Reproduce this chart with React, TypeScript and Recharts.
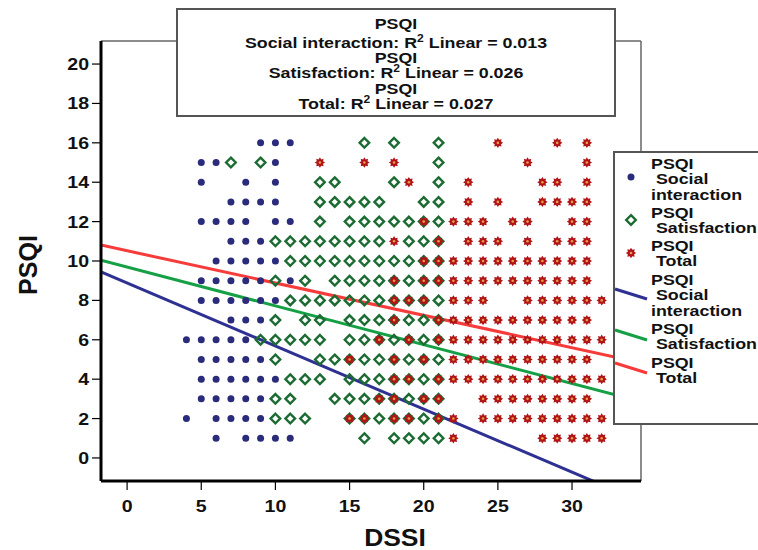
import React from 'react';
import { ScatterChart, Scatter, XAxis, YAxis, ReferenceLine } from 'recharts';

// ---------- data ----------
const psqiLevels = [16, 15, 14, 13, 12, 11, 10, 9, 8, 7, 6, 5, 4, 3, 2, 1];

// DSSI values observed at each PSQI level (same order as psqiLevels)
const socialDssi: number[][] = [
  [9, 10, 11],
  [5, 6, 10],
  [5, 8, 10],
  [7, 8, 9, 10],
  [5, 6, 7, 8, 10, 11],
  [7, 8, 9],
  [6, 7, 8, 9, 10],
  [5, 6, 7, 8, 9, 11],
  [5, 6, 7, 8, 9, 10],
  [7, 8, 9],
  [4, 5, 6, 7, 8],
  [5, 6, 7, 8, 9],
  [5, 6, 7, 8, 9, 10],
  [5, 6, 7, 8, 9],
  [4, 6, 7, 8, 9],
  [6, 8, 9, 10, 11],
];

const satisfactionDssi: number[][] = [
  [16, 18, 21],
  [7, 9, 21],
  [13, 14, 18, 21],
  [13, 14, 15, 16, 17, 20, 21],
  [13, 15, 16, 17, 18, 19, 20, 21],
  [10, 11, 12, 13, 14, 15, 16, 17, 19, 20, 21],
  [11, 12, 13, 14, 15, 16, 17, 18, 19, 20, 21],
  [10, 12, 14, 15, 16, 17, 18, 19, 20, 21],
  [11, 12, 13, 14, 15, 16, 17, 18, 19, 20, 21],
  [10, 12, 13, 15, 16, 17, 18, 19, 20, 21],
  [9, 10, 11, 12, 13, 15, 16, 17, 18, 19, 20, 21],
  [10, 13, 14, 15, 16, 17, 18, 19, 20, 21],
  [11, 12, 13, 15, 16, 17, 18, 19, 20, 21],
  [10, 11, 14, 15, 16, 17, 18, 19, 20, 21],
  [10, 11, 12, 15, 16, 17, 18, 19, 20, 21],
  [16, 18, 19, 20, 21],
];

const totalDssi: number[][] = [
  [25, 29, 31],
  [13, 16, 18, 27, 31],
  [19, 23, 28, 29, 31],
  [23, 25, 28, 29, 30, 31],
  [20, 22, 23, 24, 26, 27, 30, 31],
  [18, 21, 23, 24, 25, 27, 29, 30, 31],
  [20, 21, 22, 23, 24, 25, 26, 27, 28, 29, 30, 31],
  [18, 20, 21, 22, 23, 24, 25, 26, 27, 28, 29, 30, 31],
  [18, 19, 20, 22, 23, 24, 27, 28, 29, 30, 31, 32],
  [18, 21, 22, 23, 24, 25, 26, 27, 28, 29, 30, 31],
  [17, 19, 21, 22, 23, 24, 25, 26, 27, 28, 29, 30, 31, 32],
  [15, 18, 20, 22, 23, 24, 25, 26, 27, 28, 29, 30, 31],
  [18, 19, 21, 22, 23, 24, 25, 26, 27, 28, 29, 30, 31, 32],
  [17, 18, 20, 21, 24, 25, 26, 27, 28, 29, 30, 31],
  [15, 16, 18, 19, 21, 22, 24, 25, 26, 27, 28, 29, 30, 31, 32],
  [22, 28, 29, 30, 31, 32],
];

const seriesNames = ['Social interaction', 'Satisfaction', 'Total'];
const fitIntercepts = [8.88, 9.69, 10.52];
const fitSlopes = [-0.32, -0.197, -0.164];
const r2Values = ['0.013', '0.026', '0.027'];

const xTicks = [0, 5, 10, 15, 20, 25, 30];
const yTicks = [0, 2, 4, 6, 8, 10, 12, 14, 16, 18, 20];
const xDomain: [number, number] = [-1.76, 34.65];
const yDomain: [number, number] = [-1.17, 21.17];

// ---------- styles ----------
const FONT = "'Liberation Sans', Arial, Helvetica, sans-serif";
const BLUE = '#2b2b7b';
const GREEN = '#1c6b32';
const RED = '#b01419';
const LINE_COLORS = ['#2e3192', '#16a046', '#f63b3b'];
const STRETCH = 1.15;

const toPoints = (rows: number[][]) =>
  rows.flatMap((xs, i) => xs.map((x) => ({ x, y: psqiLevels[i] })));

const socialPts = toPoints(socialDssi);
const satisfactionPts = toPoints(satisfactionDssi);
const totalPts = toPoints(totalDssi);

const Dot = ({ cx, cy }: any) => <circle cx={cx} cy={cy} r={3.5} fill={BLUE} />;

const Diamond = ({ cx, cy }: any) => {
  const s = 4.8;
  return (
    <polygon
      points={`${cx},${cy - s} ${cx + s},${cy} ${cx},${cy + s} ${cx - s},${cy}`}
      fill="none"
      stroke={GREEN}
      strokeWidth={2.4}
    />
  );
};

const Star = ({ cx, cy }: any) => {
  const pts: string[] = [];
  for (let i = 0; i < 16; i++) {
    const r = i % 2 === 0 ? 5.2 : 3.4;
    const a = (Math.PI * i) / 8;
    pts.push(`${cx + r * Math.sin(a)},${cy - r * Math.cos(a)}`);
  }
  return (
    <g>
      <polygon points={pts.join(' ')} fill={RED} />
      <circle cx={cx} cy={cy} r={1.3} fill="#e6a040" />
    </g>
  );
};

const SText = ({ x, y, anchor = 'start', size = 15.5, children }: any) => (
  <g transform={`translate(${x},${y}) scale(${STRETCH},1)`}>
    <text
      x={0}
      y={0}
      textAnchor={anchor}
      fontFamily={FONT}
      fontWeight={700}
      fontSize={size}
      fill="#111"
      style={{ whiteSpace: 'pre' }}
    >
      {children}
    </text>
  </g>
);

const YTick = ({ x, y, payload }: any) => (
  <SText x={x} y={y + 6} anchor="end" size={17}>
    {payload.value}
  </SText>
);

const XTick = ({ x, y, payload }: any) => (
  <SText x={x} y={y + 18} anchor="middle" size={17}>
    {payload.value}
  </SText>
);

const R2Line = ({ y, name, value }: any) => (
  <g transform={`translate(396,${y}) scale(${STRETCH},1)`}>
    <text x={0} y={0} textAnchor="middle" fontFamily={FONT} fontWeight={700} fontSize={15.5} fill="#111">
      {name}: R<tspan dy={-6} fontSize={10.5}>2</tspan>
      <tspan dy={6}> Linear = {value}</tspan>
    </text>
  </g>
);

const markerShapes = [Dot, Diamond, Star];

export default function App() {
  const titleBase = [29, 63, 94];
  const legendMarkerY = [177, 220, 253];
  const legendLineY = [294, 335, 368];
  const legendTextBlocks = [
    { y: 168.5, lines: ['PSQI', ' Social', 'interaction'] },
    { y: 217.5, lines: ['PSQI', ' Satisfaction'] },
    { y: 250.5, lines: ['PSQI', ' Total'] },
    { y: 284.5, lines: ['PSQI', ' Social', 'interaction'] },
    { y: 333.5, lines: ['PSQI', ' Satisfaction'] },
    { y: 367.5, lines: ['PSQI', ' Total'] },
  ];
  return (
    <div style={{ position: 'absolute', left: 0, top: 0, width: 758, height: 550, background: '#fff' }}>
      <ScatterChart width={758} height={550} margin={{ top: 41, right: 117, bottom: 0, left: 0 }}>
        <XAxis
          type="number"
          dataKey="x"
          domain={xDomain}
          ticks={xTicks}
          allowDataOverflow
          height={69}
          axisLine={{ stroke: '#000', strokeWidth: 3 }}
          tickLine={{ stroke: '#000', strokeWidth: 1.2 }}
          tickSize={9}
          tickMargin={4}
          tick={<XTick />}
        />
        <YAxis
          type="number"
          dataKey="y"
          domain={yDomain}
          ticks={yTicks}
          allowDataOverflow
          width={101}
          axisLine={{ stroke: '#000', strokeWidth: 3 }}
          tickLine={{ stroke: '#000', strokeWidth: 1.2 }}
          tickSize={9}
          tickMargin={3}
          tick={<YTick />}
        />
        <ReferenceLine y={yDomain[1]} stroke="#666" strokeWidth={1.5} />
        <ReferenceLine x={xDomain[1]} stroke="#666" strokeWidth={1.5} />
        <Scatter data={socialPts} isAnimationActive={false} shape={<Dot />} />
        <Scatter data={satisfactionPts} isAnimationActive={false} shape={<Diamond />} />
        <Scatter data={totalPts} isAnimationActive={false} shape={<Star />} />
        {fitIntercepts.map((b, i) => (
          <ReferenceLine
            key={i}
            ifOverflow="hidden"
            stroke={LINE_COLORS[i]}
            strokeWidth={3}
            segment={[
              { x: xDomain[0], y: b + fitSlopes[i] * xDomain[0] },
              { x: xDomain[1], y: b + fitSlopes[i] * xDomain[1] },
            ]}
          />
        ))}
      </ScatterChart>
      <svg
        width={758}
        height={550}
        style={{ position: 'absolute', left: 0, top: 0, pointerEvents: 'none' }}
      >
        {/* title box */}
        <rect x={177} y={9} width={438} height={107} fill="#fff" stroke="#555" strokeWidth={2} />
        {seriesNames.map((n, i) => (
          <g key={n}>
            <SText x={396} y={titleBase[i]} anchor="middle">PSQI</SText>
            <R2Line y={titleBase[i] + (i === 0 ? 19 : 15)} name={n} value={r2Values[i]} />
          </g>
        ))}
        {/* legend */}
        <rect x={614} y={152} width={170} height={272} fill="#fff" stroke="#555" strokeWidth={2} />
        {markerShapes.map((M, i) => (
          <M key={i} cx={631} cy={legendMarkerY[i]} />
        ))}
        {LINE_COLORS.map((c, i) => (
          <line key={c} x1={615} y1={legendLineY[i] - 5} x2={647} y2={legendLineY[i] + 5} stroke={c} strokeWidth={3} />
        ))}
        {legendTextBlocks.map((blk, i) => (
          <g key={i}>
            {blk.lines.map((t, j) => (
              <SText key={j} x={651} y={blk.y + j * 15.5}>
                {t}
              </SText>
            ))}
          </g>
        ))}
        {/* axis titles */}
        <SText x={395} y={546} anchor="middle" size={23}>DSSI</SText>
        <g transform="translate(37,265) rotate(-90)">
          <text x={0} y={0} textAnchor="middle" fontFamily={FONT} fontWeight={700} fontSize={25} fill="#111">
            PSQI
          </text>
        </g>
      </svg>
    </div>
  );
}
